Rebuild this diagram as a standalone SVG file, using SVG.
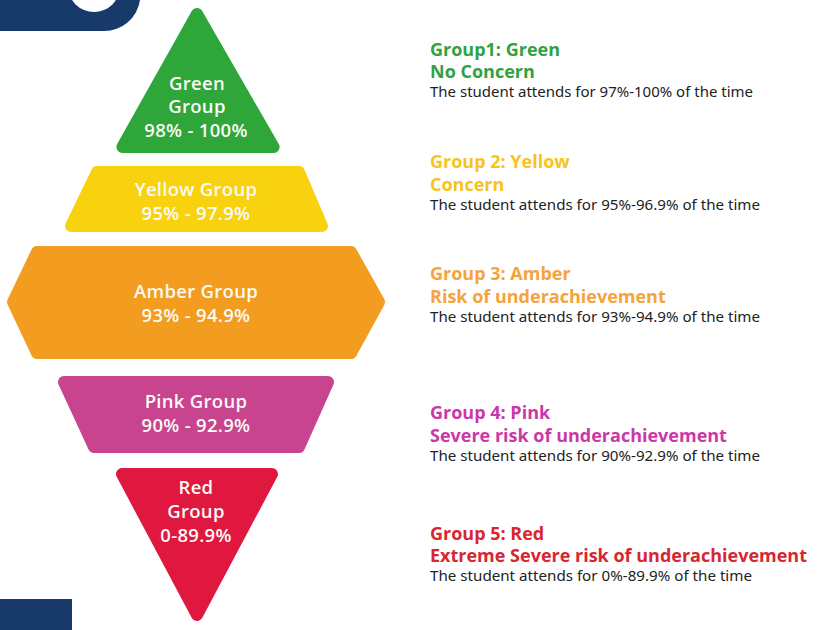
<svg xmlns="http://www.w3.org/2000/svg" width="819" height="630" viewBox="0 0 819 630">
  <style>
    .band { stroke-width: 12; stroke-linejoin: round; }
    .lbl { font-family: "Open Sans", "Noto Sans", sans-serif; font-weight: 600; font-size: 18.5px; letter-spacing: 0.3px; fill: #fbfaf5; text-anchor: middle; }
    .head { font-family: "Open Sans", "Noto Sans", sans-serif; font-weight: 700; font-size: 18px; }
    .desc { font-family: "Noto Sans", "Open Sans", sans-serif; font-size: 14px; fill: #222222; }
  </style>
  <rect width="819" height="630" fill="#ffffff"/>

  <!-- corner decorations -->
  <g id="corner-top">
    <path d="M0 0 H140 A36 36 0 0 1 104 31 H0 Z" fill="#173a6b"/>
    <circle cx="94" cy="-14" r="26" fill="#ffffff"/>
  </g>
  <rect id="corner-bottom" x="0" y="599" width="72" height="31" fill="#173a6b"/>

  <!-- pyramid bands -->
  <g id="green-group">
    <polygon class="band" points="197,14 273.6,147 122.4,147" fill="#2ea63a" stroke="#2ea63a"/>
    <text class="lbl" x="197" y="90">Green</text>
    <text class="lbl" x="197" y="113">Group</text>
    <text class="lbl" x="196" y="137">98% - 100%</text>
  </g>
  <g id="yellow-group">
    <polygon class="band" points="97,172 299,172 322,226 71,226" fill="#f8d20f" stroke="#f8d20f"/>
    <text class="lbl" x="196" y="196">Yellow Group</text>
    <text class="lbl" x="196" y="220">95% - 97.9%</text>
  </g>
  <g id="amber-group">
    <polygon class="band" points="37,252 351,252 379,302 351,353 37,353 13,302" fill="#f29c20" stroke="#f29c20"/>
    <text class="lbl" x="196" y="298">Amber Group</text>
    <text class="lbl" x="196" y="322">93% - 94.9%</text>
  </g>
  <g id="pink-group">
    <polygon class="band" points="64,382 328,382 299,447 94,447" fill="#c8448f" stroke="#c8448f"/>
    <text class="lbl" x="196" y="408">Pink Group</text>
    <text class="lbl" x="196" y="432">90% - 92.9%</text>
  </g>
  <g id="red-group">
    <polygon class="band" points="122,474 272,474 197,615" fill="#e0173f" stroke="#e0173f"/>
    <text class="lbl" x="196" y="494">Red</text>
    <text class="lbl" x="196" y="518">Group</text>
    <text class="lbl" x="196" y="542">0-89.9%</text>
  </g>

  <!-- legend -->
  <g id="legend-green">
    <text class="head" x="430" y="56" fill="#30a23f">Group1: Green</text>
    <text class="head" x="430" y="78" fill="#30a23f">No Concern</text>
    <text class="desc" x="430" y="97" textLength="323" lengthAdjust="spacingAndGlyphs">The student attends for 97%-100% of the time</text>
  </g>
  <g id="legend-yellow">
    <text class="head" x="430" y="168" fill="#f6c41a">Group 2: Yellow</text>
    <text class="head" x="430" y="191" fill="#f6c41a">Concern</text>
    <text class="desc" x="430" y="210" textLength="330" lengthAdjust="spacingAndGlyphs">The student attends for 95%-96.9% of the time</text>
  </g>
  <g id="legend-amber">
    <text class="head" x="430" y="280" fill="#f5a33a">Group 3: Amber</text>
    <text class="head" x="430" y="303" fill="#f5a33a">Risk of underachievement</text>
    <text class="desc" x="430" y="322" textLength="330" lengthAdjust="spacingAndGlyphs">The student attends for 93%-94.9% of the time</text>
  </g>
  <g id="legend-pink">
    <text class="head" x="430" y="419" fill="#cc37a8">Group 4: Pink</text>
    <text class="head" x="430" y="442" fill="#cc37a8">Severe risk of underachievement</text>
    <text class="desc" x="430" y="461" textLength="330" lengthAdjust="spacingAndGlyphs">The student attends for 90%-92.9% of the time</text>
  </g>
  <g id="legend-red">
    <text class="head" x="430" y="540" fill="#d8262f">Group 5: Red</text>
    <text class="head" x="430" y="562" fill="#d8262f">Extreme Severe risk of underachievement</text>
    <text class="desc" x="430" y="581" textLength="322" lengthAdjust="spacingAndGlyphs">The student attends for 0%-89.9% of the time</text>
  </g>
</svg>
